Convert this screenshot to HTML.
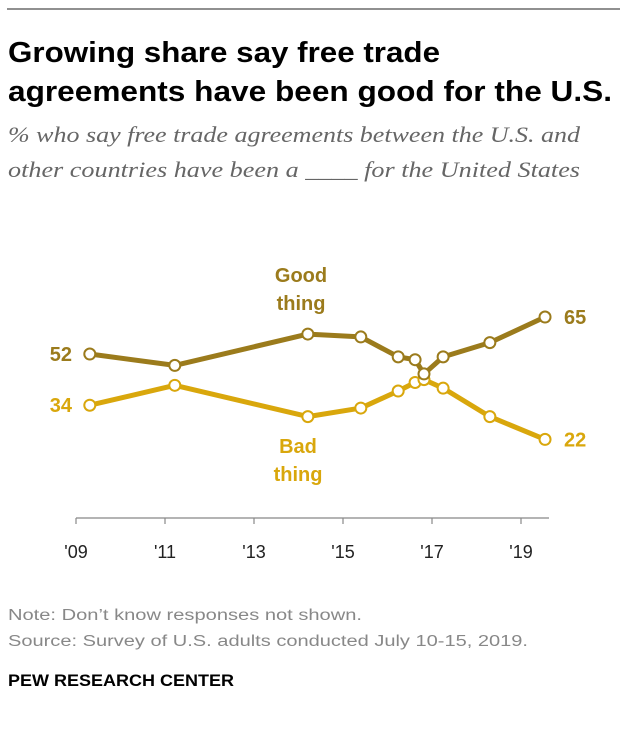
<!DOCTYPE html>
<html><head><meta charset="utf-8"><style>
html,body{margin:0;padding:0;background:#fff;width:626px;height:732px;overflow:hidden}
svg{display:block}
</style></head><body>
<svg id="chart" width="626" height="732" viewBox="0 0 626 732">
<line x1="7" y1="9" x2="620" y2="9" stroke="#222" stroke-width="1"/>
<g font-family="'Liberation Sans', sans-serif" font-weight="bold" font-size="29" fill="#000">
<text x="8" y="62" textLength="432" lengthAdjust="spacingAndGlyphs">Growing share say free trade</text>
<text x="8" y="101" textLength="604" lengthAdjust="spacingAndGlyphs">agreements have been good for the U.S.</text>
</g>
<g font-family="'Liberation Serif', serif" font-style="italic" font-size="22" fill="#666">
<text x="8" y="142" textLength="572" lengthAdjust="spacingAndGlyphs">% who say free trade agreements between the U.S. and</text>
<text x="8" y="177" textLength="572" lengthAdjust="spacingAndGlyphs">other countries have been a ____ for the United States</text>
</g>
<g id="axis"></g>
<g id="series"></g>
<g font-family="'Liberation Sans', sans-serif" font-size="15.5" fill="#888">
<text x="8" y="620" textLength="354" lengthAdjust="spacingAndGlyphs">Note: Don’t know responses not shown.</text>
<text x="8" y="646" textLength="520" lengthAdjust="spacingAndGlyphs">Source: Survey of U.S. adults conducted July 10-15, 2019.</text>
</g>
<text x="8" y="686" font-family="'Liberation Sans', sans-serif" font-weight="bold" font-size="17" fill="#000" textLength="226" lengthAdjust="spacingAndGlyphs">PEW RESEARCH CENTER</text>
</svg>
<script>
const dates = [2009.31, 2011.22, 2014.21, 2015.40, 2016.24, 2016.62, 2016.82, 2017.25, 2018.30, 2019.54];
const goodValues = [52, 48, 59, 58, 51, 50, 45, 51, 56, 65];
const badValues = [34, 41, 30, 33, 39, 42, 43, 40, 30, 22];
const tickYears = [2009, 2011, 2013, 2015, 2017, 2019];
const tickLabels = ["'09", "'11", "'13", "'15", "'17", "'19"];

const NS = 'http://www.w3.org/2000/svg';
const xS = yr => 76 + (yr - 2009) * 44.5;
const yS = v => 502 - v * 2.846;
function mk(tag, attrs, parent) { const e = document.createElementNS(NS, tag); for (const k in attrs) e.setAttribute(k, attrs[k]); parent.appendChild(e); return e; }

const axis = document.getElementById('axis');
const axLine = mk('line', {x1: 76, x2: 549, y1: 518, y2: 518, stroke: '#888', 'stroke-width': 1.2}, axis);


tickYears.forEach((yr, i) => {
  const t = mk('line', {x1: xS(yr), x2: xS(yr), y1: 518, y2: 524, stroke: '#888', 'stroke-width': 1.2}, axis);
  
  
  const l = mk('text', {x: xS(yr), y: 558, 'text-anchor': 'middle', 'font-family': "'Liberation Sans', sans-serif", 'font-size': 18, fill: '#222'}, axis);
  l.textContent = tickLabels[i];
  
  
});

const series = document.getElementById('series');
function drawSeries(vals, color, name) {
  const g = mk('g', {}, series);
  
  
  const pts = vals.map((v, i) => xS(dates[i]) + ',' + yS(v)).join(' ');
  const pl = mk('polyline', {points: pts, fill: 'none', stroke: color, 'stroke-width': 5, 'stroke-linejoin': 'round'}, g);
  
  
  vals.forEach((v, i) => {
    const c = mk('circle', {cx: xS(dates[i]), cy: yS(v), r: 5.5, fill: '#fff', stroke: color, 'stroke-width': 2}, g);
    
    
  });
  const first = mk('text', {x: 72, y: yS(vals[0]) + 7, 'text-anchor': 'end', 'font-family': "'Liberation Sans', sans-serif", 'font-weight': 'bold', 'font-size': 20, fill: color}, g);
  first.textContent = vals[0];
  
  
  const last = mk('text', {x: 564, y: yS(vals[vals.length - 1]) + 7, 'font-family': "'Liberation Sans', sans-serif", 'font-weight': 'bold', 'font-size': 20, fill: color}, g);
  last.textContent = vals[vals.length - 1];
  
  
}
drawSeries(badValues, '#d9a70c', 'bad-thing');
drawSeries(goodValues, '#9b7b1c', 'good-thing');

function label(lines, x, y0, color, name) {
  const t = mk('text', {x: x, y: y0, 'text-anchor': 'middle', 'font-family': "'Liberation Sans', sans-serif", 'font-weight': 'bold', 'font-size': 20, fill: color}, series);
  
  
  lines.forEach((s, i) => { const ts = mk('tspan', {x: x, dy: i ? 28 : 0}, t); ts.textContent = s; });
}
label(['Good', 'thing'], 301, 282, '#9b7b1c', 'good-thing-label');
label(['Bad', 'thing'], 298, 453, '#d9a70c', 'bad-thing-label');
</script>
</body></html>
